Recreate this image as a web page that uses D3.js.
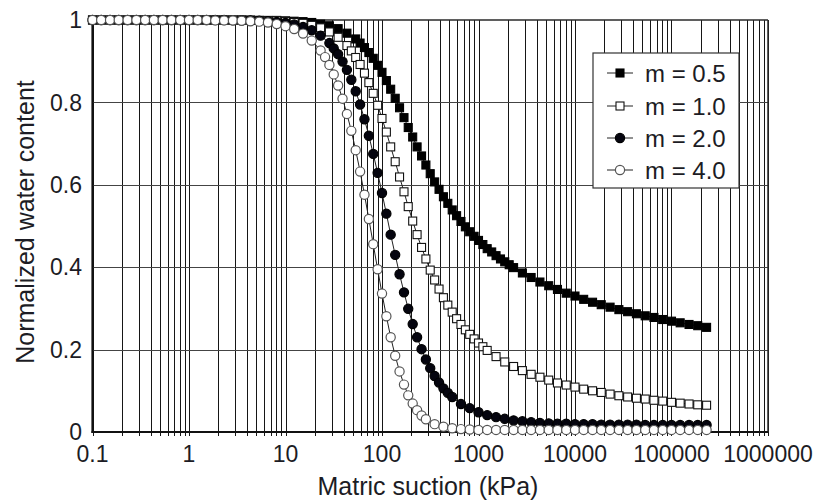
<!DOCTYPE html>
<html><head><meta charset="utf-8">
<script src="https://cdn.jsdelivr.net/npm/d3@7"></script>
<style>body{margin:0;background:#fff}svg{display:block}</style>
</head><body>
<svg id="chart" width="827" height="503"></svg>
<script>
// ---- data (matric suction in kPa, normalized water content) ----
const suction05 = [
  0.1,0.123,0.152,0.187,0.231,0.285,0.351,0.433,0.534,0.658,0.811,
  1,1.23,1.52,1.87,2.31,2.85,3.51,4.33,5.34,6.58,8.11,
  10,12.3,15.2,18.7,23.1,28.5,35.1,43.3,53.4,59.3,65.8,73.1,81.1,90.1,
  100,111,123,137,152,169,187,208,231,257,285,316,351,390,433,481,534,593,658,731,811,901,
  1000,1110,1230,1370,1520,1690,1870,2080,2310,2850,3510,4330,5340,6580,8110,
  10000,12300,15200,18700,23100,28500,35100,43300,53400,65800,81100,
  100000,123000,152000,187000,231000
];
const theta05 = [
  1,1,1,1,1,1,1,1,1,1,1,
  1,1,1,1,1,1,1,1,0.999,0.999,0.999,
  0.998,0.997,0.996,0.994,0.990,0.986,0.979,0.968,0.954,0.944,0.933,0.921,0.907,0.890,
  0.873,0.853,0.832,0.810,0.787,0.763,0.739,0.716,0.692,0.670,0.648,0.627,0.607,0.589,0.571,0.555,0.539,0.525,0.511,0.498,0.486,0.475,
  0.465,0.455,0.445,0.437,0.428,0.420,0.413,0.406,0.399,0.386,0.375,0.364,0.355,0.346,0.337,
  0.330,0.322,0.315,0.309,0.303,0.297,0.292,0.287,0.282,0.278,0.273,
  0.269,0.265,0.261,0.258,0.254
];
const suction10 = [
  0.1,0.123,0.152,0.187,0.231,0.285,0.351,0.433,0.534,0.658,0.811,
  1,1.23,1.52,1.87,2.31,2.85,3.51,4.33,5.34,6.58,8.11,
  10,12.3,15.2,18.7,23.1,28.5,35.1,43.3,48.1,53.4,59.3,65.8,73.1,81.1,90.1,
  100,111,123,137,152,169,187,208,231,257,285,316,351,390,433,481,534,593,658,731,811,901,
  1000,1110,1230,1520,1870,2310,2850,3510,4330,5340,6580,8110,
  10000,12300,15200,18700,23100,28500,35100,43300,53400,65800,81100,
  100000,123000,152000,187000,231000
];
const theta10 = [
  1,1,1,1,1,1,1,1,1,1,1,
  1,1,1,1,1,1,1,0.999,0.999,0.998,0.998,
  0.996,0.994,0.992,0.987,0.981,0.971,0.958,0.938,0.925,0.909,0.892,0.871,0.848,0.822,0.793,
  0.761,0.728,0.692,0.656,0.619,0.583,0.547,0.512,0.479,0.448,0.420,0.393,0.369,0.347,0.326,0.308,0.291,0.275,0.261,0.248,0.237,0.226,
  0.216,0.207,0.198,0.183,0.170,0.159,0.149,0.140,0.133,0.126,0.119,0.114,
  0.109,0.104,0.100,0.096,0.092,0.088,0.085,0.082,0.080,0.077,0.075,
  0.072,0.070,0.068,0.066,0.065
];
const suction20 = [
  0.1,0.123,0.152,0.187,0.231,0.285,0.351,0.433,0.534,0.658,0.811,
  1,1.23,1.52,1.87,2.31,2.85,3.51,4.33,5.34,6.58,8.11,
  10,12.3,15.2,18.7,23.1,28.5,31.6,35.1,39.0,43.3,48.1,53.4,59.3,65.8,73.1,81.1,90.1,
  100,111,123,137,152,169,187,208,231,257,285,316,351,390,433,481,534,658,811,
  1000,1230,1520,1870,2310,2850,3510,4330,5340,6580,8110,
  10000,12300,15200,18700,23100,28500,35100,43300,53400,65800,81100,
  100000,123000,152000,187000,231000
];
const theta20 = [
  1,1,1,1,1,1,1,1,1,1,1,
  1,1,1,1,1,0.999,0.999,0.999,0.998,0.997,0.995,
  0.993,0.989,0.983,0.975,0.962,0.944,0.931,0.917,0.899,0.879,0.855,0.827,0.795,0.759,0.719,0.675,0.629,
  0.580,0.530,0.479,0.430,0.383,0.339,0.299,0.262,0.230,0.201,0.176,0.155,0.136,0.120,0.106,0.095,0.085,0.068,0.058,
  0.048,0.041,0.036,0.032,0.028,0.026,0.024,0.022,0.021,0.020,0.020,
  0.019,0.019,0.019,0.018,0.018,0.018,0.018,0.018,0.017,0.017,0.017,
  0.017,0.017,0.017,0.017,0.017
];
const suction40 = [
  0.1,0.123,0.152,0.187,0.231,0.285,0.351,0.433,0.534,0.658,0.811,
  1,1.23,1.52,1.87,2.31,2.85,3.51,4.33,5.34,6.58,8.11,
  10,12.3,15.2,18.7,23.1,25.7,28.5,31.6,35.1,39.0,43.3,48.1,53.4,59.3,65.8,73.1,81.1,90.1,
  100,111,123,137,152,169,187,208,231,257,285,351,433,534,658,811,
  1000,1230,1520,1870,2310,2850,3510,4330,5340,6580,8110,
  10000,12300,15200,18700,23100,28500,35100,43300,53400,65800,81100,
  100000,123000,152000,187000,231000
];
const theta40 = [
  1,1,1,1,1,1,1,1,1,1,1,
  1,1,1,0.999,0.999,0.999,0.998,0.997,0.996,0.994,0.990,
  0.985,0.978,0.967,0.950,0.926,0.910,0.891,0.868,0.841,0.809,0.772,0.731,0.684,0.632,0.576,0.517,0.456,0.395,
  0.336,0.281,0.230,0.185,0.147,0.115,0.089,0.069,0.053,0.040,0.031,0.019,0.013,0.009,0.007,0.006,
  0.005,0.005,0.005,0.005,0.005,0.005,0.005,0.005,0.005,0.005,0.005,
  0.005,0.005,0.005,0.005,0.005,0.005,0.005,0.005,0.005,0.005,0.005,
  0.005,0.005,0.005,0.005,0.005
];
const seriesNames = ["m = 0.5","m = 1.0","m = 2.0","m = 4.0"];
const xTickValues = [0.1,1,10,100,1000,10000,100000,1000000];
const xTickLabels = ["0.1","1","10","100","1000","10000","100000","1000000"];
const yTickValues = [0,0.2,0.4,0.6,0.8,1];
const yTickLabels = ["0","0.2","0.4","0.6","0.8","1"];
const xTitle = "Matric suction (kPa)";
const yTitle = "Normalized water content";

// ---- chart ----
const svg = d3.select("#chart");
const L = 92.5, R = 768, T = 20, B = 432;
const x = d3.scaleLog().domain([0.1, 1000000]).range([L, R]);
const y = d3.scaleLinear().domain([0, 1]).range([B, T]);
const font = "Liberation Sans, Arial, sans-serif";
const txt = "#1c1c24";
const px = v => Math.round(v) + 0.5;

svg.append("rect").attr("width", 827).attr("height", 503).attr("fill", "#fff");

// vertical grid (all log minor ticks)
svg.append("g").selectAll("line").data(x.ticks()).enter().append("line")
  .attr("x1", d => px(x(d))).attr("x2", d => px(x(d)))
  .attr("y1", T).attr("y2", B + 4)
  .attr("stroke", "#161616").attr("stroke-width", 1);

// horizontal grid
svg.append("g").selectAll("line").data(yTickValues.filter(v => v > 0 && v < 1)).enter().append("line")
  .attr("x1", L).attr("x2", R).attr("y1", d => px(y(d))).attr("y2", d => px(y(d)))
  .attr("stroke", "#444").attr("stroke-width", 1);

// borders
svg.append("line").attr("x1", L).attr("x2", R).attr("y1", T).attr("y2", T).attr("stroke", "#2a2a2a").attr("stroke-width", 1.5);
svg.append("line").attr("x1", R).attr("x2", R).attr("y1", T).attr("y2", B).attr("stroke", "#2a2a2a").attr("stroke-width", 1.5);
svg.append("line").attr("x1", L).attr("x2", L).attr("y1", T).attr("y2", B + 1).attr("stroke", "#111").attr("stroke-width", 2.2);
svg.append("line").attr("x1", L - 1).attr("x2", R).attr("y1", B).attr("y2", B).attr("stroke", "#111").attr("stroke-width", 2.2);

// tick labels
svg.append("g").selectAll("text").data(xTickValues).enter().append("text")
  .attr("x", d => x(d)).attr("y", 462)
  .attr("text-anchor", "middle").attr("font-family", font).attr("font-size", 23).attr("fill", txt)
  .text((d, i) => xTickLabels[i]);
svg.append("g").selectAll("text").data(yTickValues).enter().append("text")
  .attr("x", 82).attr("y", d => y(d) + 8.2)
  .attr("text-anchor", "end").attr("font-family", font).attr("font-size", 23).attr("fill", txt)
  .text((d, i) => yTickLabels[i]);

// titles
svg.append("text").attr("x", 428).attr("y", 495).attr("text-anchor", "middle")
  .attr("font-family", font).attr("font-size", 25).attr("fill", txt).text(xTitle);
svg.append("text").attr("transform", "translate(34,222) rotate(-90)").attr("text-anchor", "middle")
  .attr("font-family", font).attr("font-size", 25).attr("fill", txt).text(yTitle);

// series
const styles = [
  {shape: "square", fill: "#000", stroke: "#000"},
  {shape: "square", fill: "#fff", stroke: "#111"},
  {shape: "circle", fill: "#05050f", stroke: "#000"},
  {shape: "circle", fill: "#fff", stroke: "#555"}
];
const allSeries = [[suction05, theta05], [suction10, theta10], [suction20, theta20], [suction40, theta40]];
const line = d3.line().x(d => x(d[0])).y(d => y(d[1]));

function marker(g, st, cx, cy) {
  if (st.shape === "square") {
    g.append("rect").attr("x", cx - 4).attr("y", cy - 4).attr("width", 8).attr("height", 8)
      .attr("fill", st.fill).attr("stroke", st.stroke).attr("stroke-width", 1.1);
  } else {
    g.append("circle").attr("cx", cx).attr("cy", cy).attr("r", 4.6)
      .attr("fill", st.fill).attr("stroke", st.stroke).attr("stroke-width", 1.2);
  }
}

allSeries.forEach(([xs, ys], si) => {
  const n = Math.min(xs.length, ys.length);
  const pts = d3.range(n).map(i => [xs[i], ys[i]]);
  const g = svg.append("g");
  g.append("path").attr("d", line(pts)).attr("fill", "none").attr("stroke", "#222").attr("stroke-width", 1);
  pts.forEach(p => marker(g, styles[si], x(p[0]), y(p[1])));
});

// legend
const lg = svg.append("g");
lg.append("rect").attr("x", 593).attr("y", 53).attr("width", 146).attr("height", 135)
  .attr("fill", "#fff").attr("stroke", "#333").attr("stroke-width", 1.2);
const ly = [73, 106, 138, 170];
seriesNames.forEach((nm, i) => {
  lg.append("line").attr("x1", 607).attr("x2", 633).attr("y1", ly[i]).attr("y2", ly[i]).attr("stroke", "#222").attr("stroke-width", 1);
  marker(lg, styles[i], 620, ly[i]);
  lg.append("text").attr("x", 645).attr("y", ly[i] + 8.5).attr("font-family", font).attr("font-size", 24)
    .attr("fill", txt).text(nm);
});
</script>
</body></html>
